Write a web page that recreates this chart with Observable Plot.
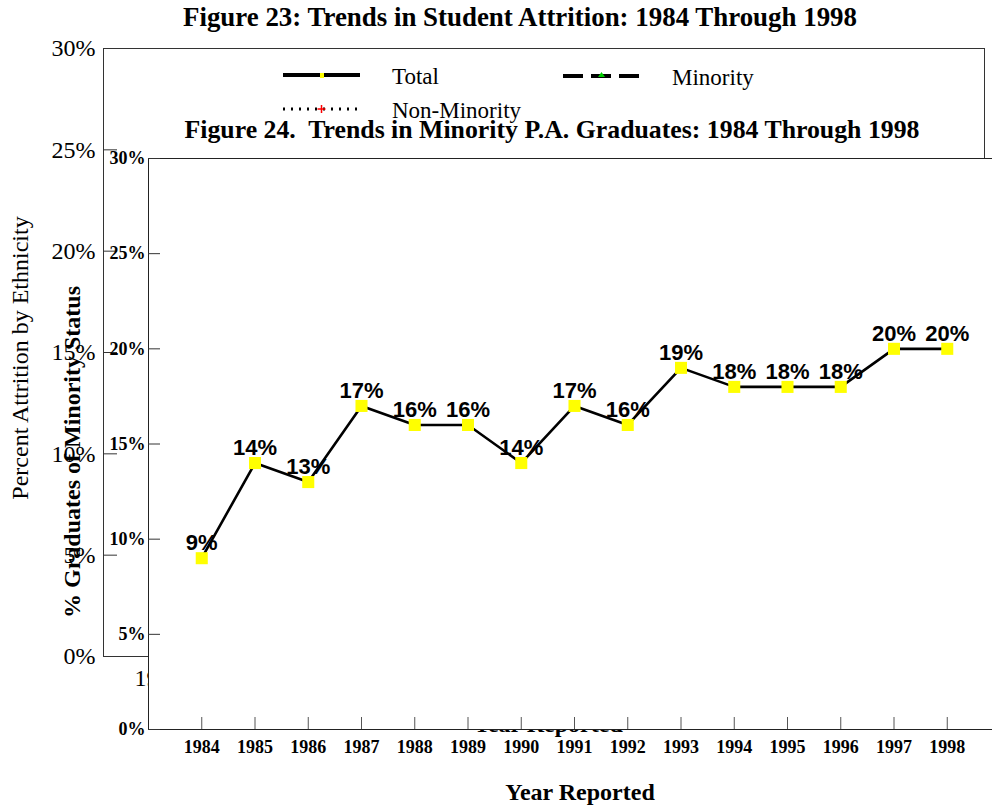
<!DOCTYPE html>
<html><head><meta charset="utf-8">
<script src="https://cdn.jsdelivr.net/npm/d3@7"></script>
<script src="https://cdn.jsdelivr.net/npm/@observablehq/plot@0.6"></script>
<style>
html,body{margin:0;padding:0;background:#fff;overflow:hidden;width:992px;height:808px}
#wrap{position:relative;width:992px;height:808px;overflow:hidden;font-family:"Liberation Serif","Times New Roman",serif}
.layer{position:absolute;left:0;top:0;max-width:none !important}
.t{position:absolute;white-space:pre;color:#000;line-height:1}
.c{transform:translate(-50%,-50%)}
.r{transform:translate(-50%,-50%) rotate(-90deg)}
.b{font-weight:bold}
</style></head><body><div id="wrap"></div>
<script>
// ---- data ----
const years = [1984,1985,1986,1987,1988,1989,1990,1991,1992,1993,1994,1995,1996,1997,1998];
const minorityPct = [9,14,13,17,16,16,14,17,16,19,18,18,18,20,20];
const fig23Ticks = [0,5,10,15,20,25,30];
const fig24Ticks = [0,5,10,15,20,25,30];
const fig23Series = ["Total","Minority","Non-Minority"];
const fig23Title = "Figure 23: Trends in Student Attrition: 1984 Through 1998";
const fig24Title = "Figure 24.  Trends in Minority P.A. Graduates: 1984 Through 1998";

const data24 = years.map((y,i)=>({year:y, pct:minorityPct[i]}));
const wrap = document.getElementById("wrap");
const pct = d => d + "%";

function addText(txt, cls, left, top, style, fit) {
  const d = document.createElement("div");
  d.className = "t " + cls;
  d.textContent = txt;
  d.style.left = left + "px";
  d.style.top = top + "px";
  Object.assign(d.style, style || {});
  wrap.appendChild(d);
  if (fit) {
    const w = d.getBoundingClientRect().width;
    d.style.transform = `translate(-50%,-50%) scaleX(${fit / w})`;
  }
  return d;
}

// ---- Figure 23 (background) ----
const fig23 = Plot.plot({
  width: 992, height: 808,
  marginLeft: 103, marginRight: 8, marginTop: 48, marginBottom: 152,
  style: {background: "transparent", fontFamily: "Liberation Serif", color: "#000", overflow: "visible", maxWidth: "none"},
  x: {domain: [1983, 1999], axis: null},
  y: {domain: [0, 30], axis: null},
  marks: [
    Plot.frame({stroke: "#333"}),
    Plot.axisY(fig23Ticks, {tickSize: -14, tickPadding: 22, tickFormat: pct, fontSize: 24, label: null, stroke: "#333"}),
    Plot.axisX(years, {tickSize: -14, tickPadding: 26, tickFormat: d => String(d), fontSize: 24, label: null, stroke: "#333"})
  ]
});
fig23.classList.add("layer");
wrap.appendChild(fig23);

addText(fig23Title, "c b", 520, 17, {fontSize: "27px"}, 674);
addText("Percent Attrition by Ethnicity", "r", 20, 358, {fontSize: "24px"});
addText("Year Reported", "c b", 548, 724, {fontSize: "24px"});

// legend for Figure 23
const legendSpecs = [
  {name: fig23Series[0], x: 283, y: 75, dash: null, marker: "rect", color: "#ffff00"},
  {name: fig23Series[1], x: 563, y: 76, dash: "20,8", marker: "tri", color: "#00cc00"},
  {name: fig23Series[2], x: 283, y: 109, dash: "2,6", marker: "plus", color: "#ff0000"}
];
const labelX = {Total: 392, Minority: 672, "Non-Minority": 392};
for (const s of legendSpecs) {
  const ns = "http://www.w3.org/2000/svg";
  const svg = document.createElementNS(ns, "svg");
  svg.setAttribute("width", 82); svg.setAttribute("height", 14);
  svg.style.position = "absolute"; svg.style.left = s.x + "px"; svg.style.top = (s.y - 7) + "px";
  const ln = document.createElementNS(ns, "line");
  ln.setAttribute("x1", 0); ln.setAttribute("x2", 77); ln.setAttribute("y1", 7); ln.setAttribute("y2", 7);
  ln.setAttribute("stroke", "#000"); ln.setAttribute("stroke-width", s.dash === "2,6" ? 3 : 4);
  if (s.dash) ln.setAttribute("stroke-dasharray", s.dash);
  svg.appendChild(ln);
  let m;
  if (s.marker === "rect") {
    m = document.createElementNS(ns, "rect");
    m.setAttribute("x", 37); m.setAttribute("y", 5); m.setAttribute("width", 4); m.setAttribute("height", 5);
    m.setAttribute("fill", s.color);
  } else if (s.marker === "tri") {
    m = document.createElementNS(ns, "path");
    m.setAttribute("d", "M38.5,3 L42,8 L35,8 Z"); m.setAttribute("fill", s.color);
  } else {
    m = document.createElementNS(ns, "path");
    m.setAttribute("d", "M38.5,3 V11 M34.5,7 H42.5"); m.setAttribute("stroke", s.color); m.setAttribute("stroke-width", 1.5);
  }
  svg.appendChild(m);
  wrap.appendChild(svg);
  addText(s.name, "", labelX[s.name], s.y - 10, {fontSize: "23px"});
}

// ---- Figure 24 (foreground) ----
const fig24 = Plot.plot({
  width: 1000, height: 808,
  marginLeft: 148, marginRight: 0, marginTop: 158, marginBottom: 79,
  style: {background: "transparent", fontFamily: "Liberation Serif", color: "#000", overflow: "visible", maxWidth: "none"},
  x: {domain: [1983, 1999], axis: null},
  y: {domain: [0, 30], axis: null},
  marks: [
    Plot.frame({fill: "white", stroke: "#222"}),
    Plot.axisY(fig24Ticks, {tickSize: -12, tickPadding: 15, tickFormat: pct, fontSize: 18, fontWeight: "bold", label: null, stroke: "#333"}),
    Plot.axisX(years, {tickSize: -12, tickPadding: 23, tickFormat: d => String(d), fontSize: 18, fontWeight: "bold", label: null, stroke: "#555"}),
    Plot.line(data24, {x: "year", y: "pct", stroke: "#000", strokeWidth: 2.6}),
    Plot.dot(data24, {x: "year", y: "pct", symbol: "square", r: 6.8, fill: "#ffff00", stroke: "none"}),
    Plot.text(data24, {x: "year", y: "pct", text: d => d.pct + "%", dy: -15, fontSize: 22, fontWeight: "bold", fontFamily: "Liberation Sans", fill: "#000"})
  ]
});
fig24.classList.add("layer");
wrap.appendChild(fig24);

addText(fig24Title, "c b", 552, 130, {fontSize: "26px"}, 735);
addText("% Graduates of Minority Status", "r b", 72, 452, {fontSize: "24px"});
addText("Year Reported", "c b", 580, 792, {fontSize: "24px"});
</script></body></html>
